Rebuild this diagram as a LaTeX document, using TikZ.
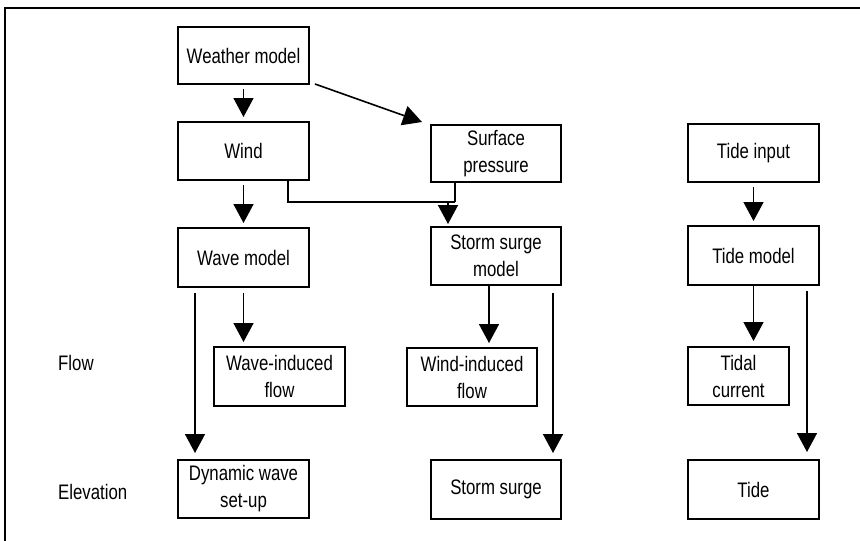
\documentclass[tikz,border=0pt]{standalone}
\usepackage{fontspec}
\setmainfont{Liberation Sans}[FakeStretch=0.8]
\usetikzlibrary{arrows.meta}
\tikzset{
  box/.style={draw, line width=2pt, rectangle, inner sep=0pt, minimum width=131pt, minimum height=58pt, align=center, font=\fontsize{21}{27}\selectfont},
  lbl/.style={anchor=west, inner sep=0pt, font=\fontsize{21}{27}\selectfont},
  ln/.style={line width=1.6pt},
  arr/.style={line width=1.6pt, -{Triangle[width=20pt,length=19pt]}, shorten <=4pt, shorten >=4pt}
}
\begin{document}
\begin{tikzpicture}[x=1pt,y=-1pt]
\useasboundingbox (0,0) rectangle (860,541);
\draw[line width=1.3pt] (5,560) -- (5,8) -- (880,8);

\node[box, minimum height=57pt] (wm) at (243.5,55.5) {Weather model};
\node[box] (wind) at (243.5,151) {Wind};
\node[box, minimum width=130pt, minimum height=57pt] (sp) at (496,153.5) {Surface\\pressure};
\node[box, minimum height=59pt] (wavem) at (243.5,257.5) {Wave model};
\node[box, minimum width=130pt] (ssm) at (496,256) {Storm surge\\model};
\node[box, minimum height=59pt] (wif) at (279.5,376.5) {Wave-induced\\flow};
\node[box, minimum width=130pt] (windf) at (472,377) {Wind-induced\\flow};
\node[box] (dws) at (243.5,489) {Dynamic wave\\set-up};
\node[box, minimum width=130pt, minimum height=59pt] (ss) at (496,489.5) {Storm surge};
\node[box] (ti) at (753.5,153) {Tide input};
\node[box, minimum height=59pt] (tm) at (753.5,255.5) {Tide model};
\node[box, minimum width=101pt] (tc) at (738.5,376) {Tidal\\current};
\node[box, minimum height=59pt] (tide) at (753.5,489.5) {Tide};

\node[lbl] (flow) at (58,363) {Flow};
\node[lbl] (elev) at (58,492) {Elevation};

% arrows
\draw[arr] (wm.south) -- (wind.north);
\draw[arr, shorten <=0pt, shorten >=0pt] ([shift={(5,-1)}]wm.south east) -- ([shift={(-8,-2)}]sp.north west);
\draw[arr] (wind.south) -- (wavem.north);

\coordinate (j) at (455,202);
\coordinate (ja) at (448,202);
\draw[ln] ([xshift=-22pt]wind.south east) |- (j);
\draw[ln] (j) -- (j |- sp.south);
\draw[arr, shorten <=0pt, shorten >=2pt] (ja) -- (ja |- ssm.north);

\draw[arr, shorten <=5pt] (wavem.south) -- (wavem.south |- wif.north);
\draw[arr, shorten <=5pt, shorten >=6pt] ([xshift=18pt]wavem.south west) -- ([xshift=18pt]dws.north west);

\draw[arr, shorten <=0pt] ([xshift=-7pt]ssm.south) -- ([xshift=-7pt]ssm.south |- windf.north);
\draw[arr, shorten <=7pt, shorten >=6pt] ([xshift=-9pt]ssm.south east) -- ([xshift=-9pt]ss.north east);

\draw[arr] (ti.south) -- (tm.north);
\draw[arr, shorten <=0pt, shorten >=5pt] (tm.south) -- (tm.south |- tc.north);
\draw[arr, shorten <=5pt, shorten >=7pt] ([xshift=-13pt]tm.south east) -- ([xshift=-13pt]tide.north east);
\end{tikzpicture}
\end{document}
